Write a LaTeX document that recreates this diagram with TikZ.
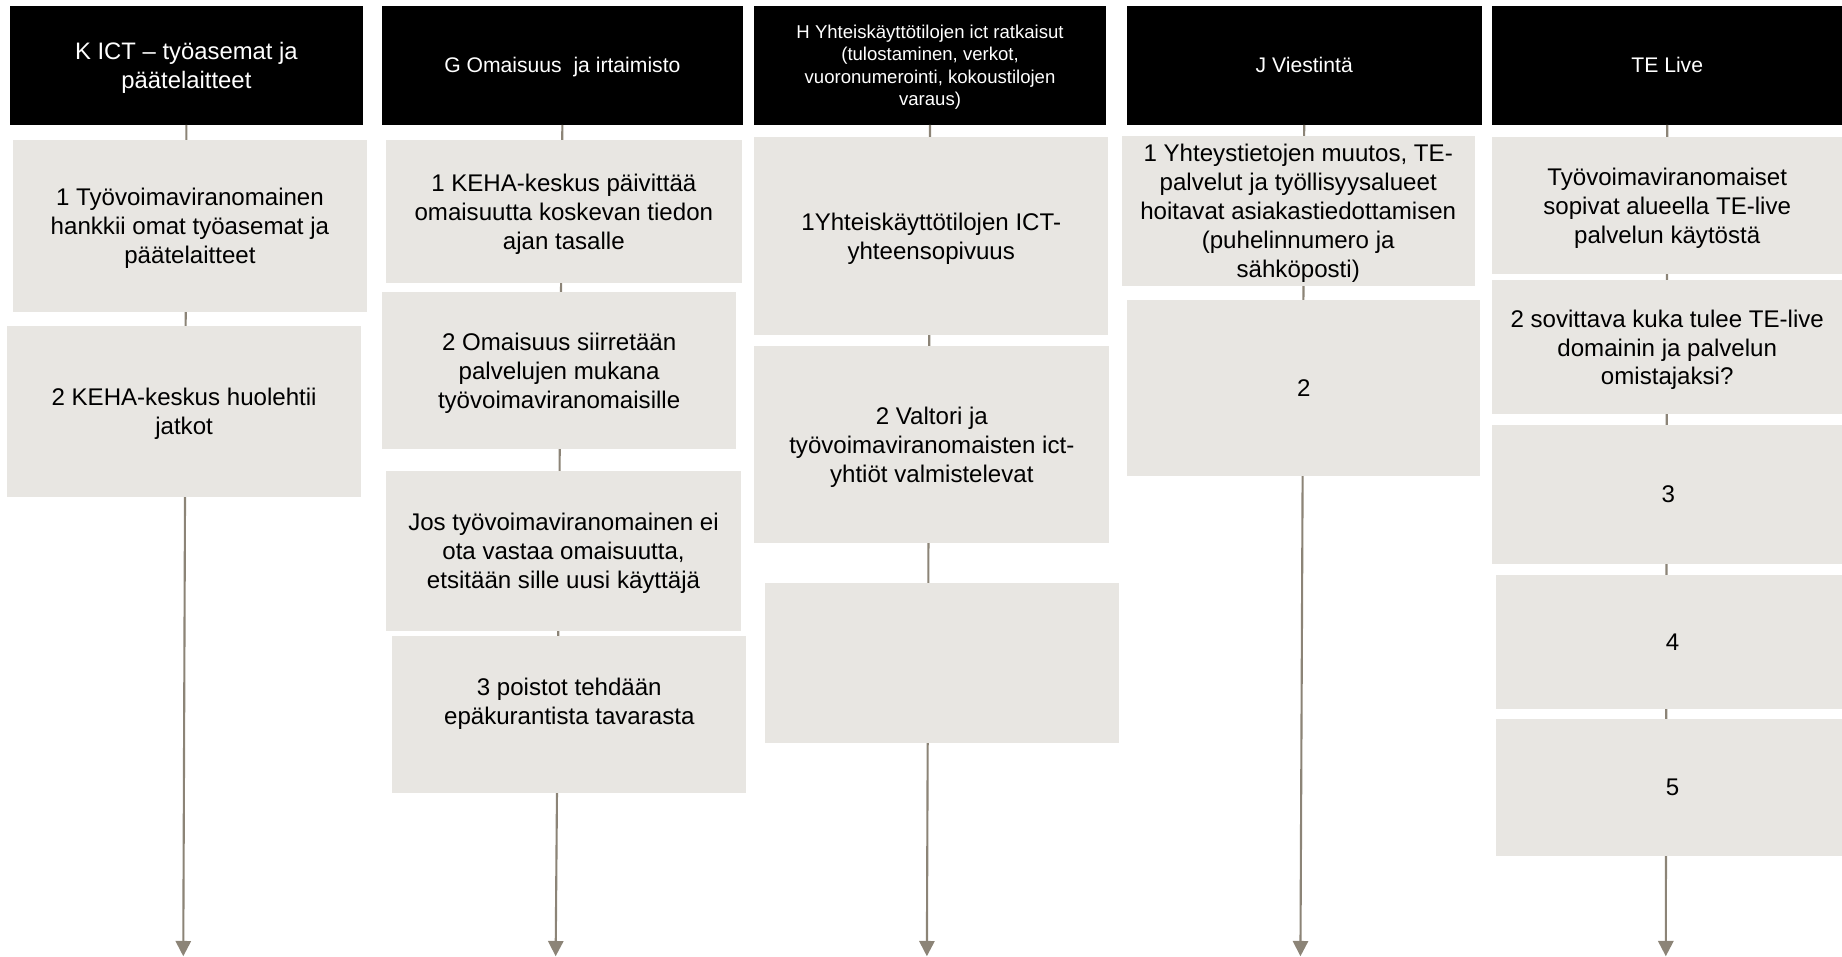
\documentclass[tikz,border=0pt]{standalone}
\usepackage{fontspec}
\setmainfont{Liberation Sans}
\usetikzlibrary{arrows.meta}
\definecolor{boxgray}{HTML}{E8E6E2}
\definecolor{linegray}{HTML}{8C8477}
\begin{document}
\begin{tikzpicture}[x=1pt,y=-1pt,
  hdr/.style={fill=black, text=white, inner sep=2pt, align=center, anchor=north west, minimum height=101.5pt},
  hbig/.style={font=\fontsize{20.3}{25}\selectfont, text depth=-3.7pt},
  hmid/.style={font=\fontsize{18}{21.6}\selectfont},
  hsmall/.style={font=\fontsize{15.8}{19}\selectfont, text depth=-0.7pt},
  stepbox/.style={fill=boxgray, text=black, inner sep=2pt, align=center, anchor=north west,
    font=\fontsize{20.5}{24.6}\selectfont, text depth=-2pt},
  flow/.style={draw=linegray, line width=1.8pt, -{Triangle[width=13pt,length=13pt]}}
]
\useasboundingbox (0,0) rectangle (1568,814);

% headers
\node[hdr,hbig,minimum width=301pt] (h1) at (8,4.5) {K ICT -- työasemat ja\\päätelaitteet};
\node[hdr,hmid,text depth=-2.2pt,minimum width=307pt] (h2) at (325,4.5) {G Omaisuus~ ja irtaimisto};
\node[hdr,hsmall,minimum width=299pt] (h3) at (642,4.5) {H Yhteiskäyttötilojen ict ratkaisut\\(tulostaminen, verkot,\\vuoronumerointi, kokoustilojen\\varaus)};
\node[hdr,hmid,text depth=-2pt,minimum width=302pt] (h4) at (959,4.5) {J Viestintä};
\node[hdr,hmid,text depth=-2pt,minimum width=298pt] (h5) at (1270,4.5) {TE Live};

% arrow ends
\coordinate (e1) at (156,814);
\coordinate (e2) at (473,814);
\coordinate (e3) at (789,814);
\coordinate (e4) at (1107,814);
\coordinate (e5) at (1418,814);

% timelines (drawn behind the boxes)
\draw[flow] (h1.south) -- (e1);
\draw[flow] (h2.south) -- (e2);
\draw[flow] (h3.south) -- (e3);
\draw[flow] (h4.south) -- (e4);
\draw[flow] (h5.south) -- (e5);

% column 1
\node[stepbox,minimum width=301pt,minimum height=146.6pt] (a1) at (11,119)
  {1 Työvoimaviranomainen\\hankkii omat työasemat ja\\päätelaitteet};
\node[stepbox,minimum width=301pt,minimum height=145.5pt] (a2) at (6,277.5)
  {2 KEHA-keskus huolehtii\\jatkot};

% column 2
\node[stepbox,minimum width=302.5pt,minimum height=121.6pt] (b1) at (328.5,119)
  {1 KEHA-keskus päivittää\\omaisuutta koskevan tiedon\\ajan tasalle};
\node[stepbox,minimum width=301.5pt,minimum height=133pt] (b2) at (325,248.6)
  {2 Omaisuus siirretään\\palvelujen mukana\\työvoimaviranomaisille};
\node[stepbox,minimum width=302pt,minimum height=136.2pt] (b3) at (328.5,400.7)
  {Jos työvoimaviranomainen ei\\ota vastaa omaisuutta,\\etsitään sille uusi käyttäjä};
\node[stepbox,minimum width=301.2pt,minimum height=133.4pt,text depth=23pt] (b4) at (333.8,541.4)
  {3 poistot tehdään\\epäkurantista tavarasta};

% column 3
\node[stepbox,minimum width=301pt,minimum height=168pt] (c1) at (642,116.6)
  {1Yhteiskäyttötilojen ICT-\\yhteensopivuus};
\node[stepbox,minimum width=302pt,minimum height=167.5pt] (c2) at (642,294.5)
  {2 Valtori ja\\työvoimaviranomaisten ict-\\yhtiöt valmistelevat};
\node[stepbox,minimum width=301.2pt,minimum height=136pt] (c3) at (651.4,496) {};

% column 4
\node[stepbox,minimum width=300.2pt,minimum height=127.2pt] (d1) at (954.8,115.8)
  {1 Yhteystietojen muutos, TE-\\palvelut ja työllisyysalueet\\hoitavat asiakastiedottamisen\\(puhelinnumero ja\\sähköposti)};
\node[stepbox,minimum width=300.5pt,minimum height=149.2pt] (d2) at (959.5,255.4) {2};

% column 5
\node[stepbox,minimum width=298pt,minimum height=116.7pt] (f1) at (1270,116.6)
  {Työvoimaviranomaiset\\sopivat alueella TE-live\\palvelun käytöstä};
\node[stepbox,minimum width=298pt,minimum height=114.1pt] (f2) at (1270,238.4)
  {2 sovittava kuka tulee TE-live\\domainin ja palvelun\\omistajaksi?};
\node[stepbox,minimum width=300pt,minimum height=117.7pt] (f3) at (1270,361.8) {3};
\node[stepbox,minimum width=300pt,minimum height=113.8pt] (f4) at (1273.6,489.5) {4};
\node[stepbox,minimum width=300pt,minimum height=116.4pt] (f5) at (1273.6,612) {5};
\end{tikzpicture}
\end{document}
